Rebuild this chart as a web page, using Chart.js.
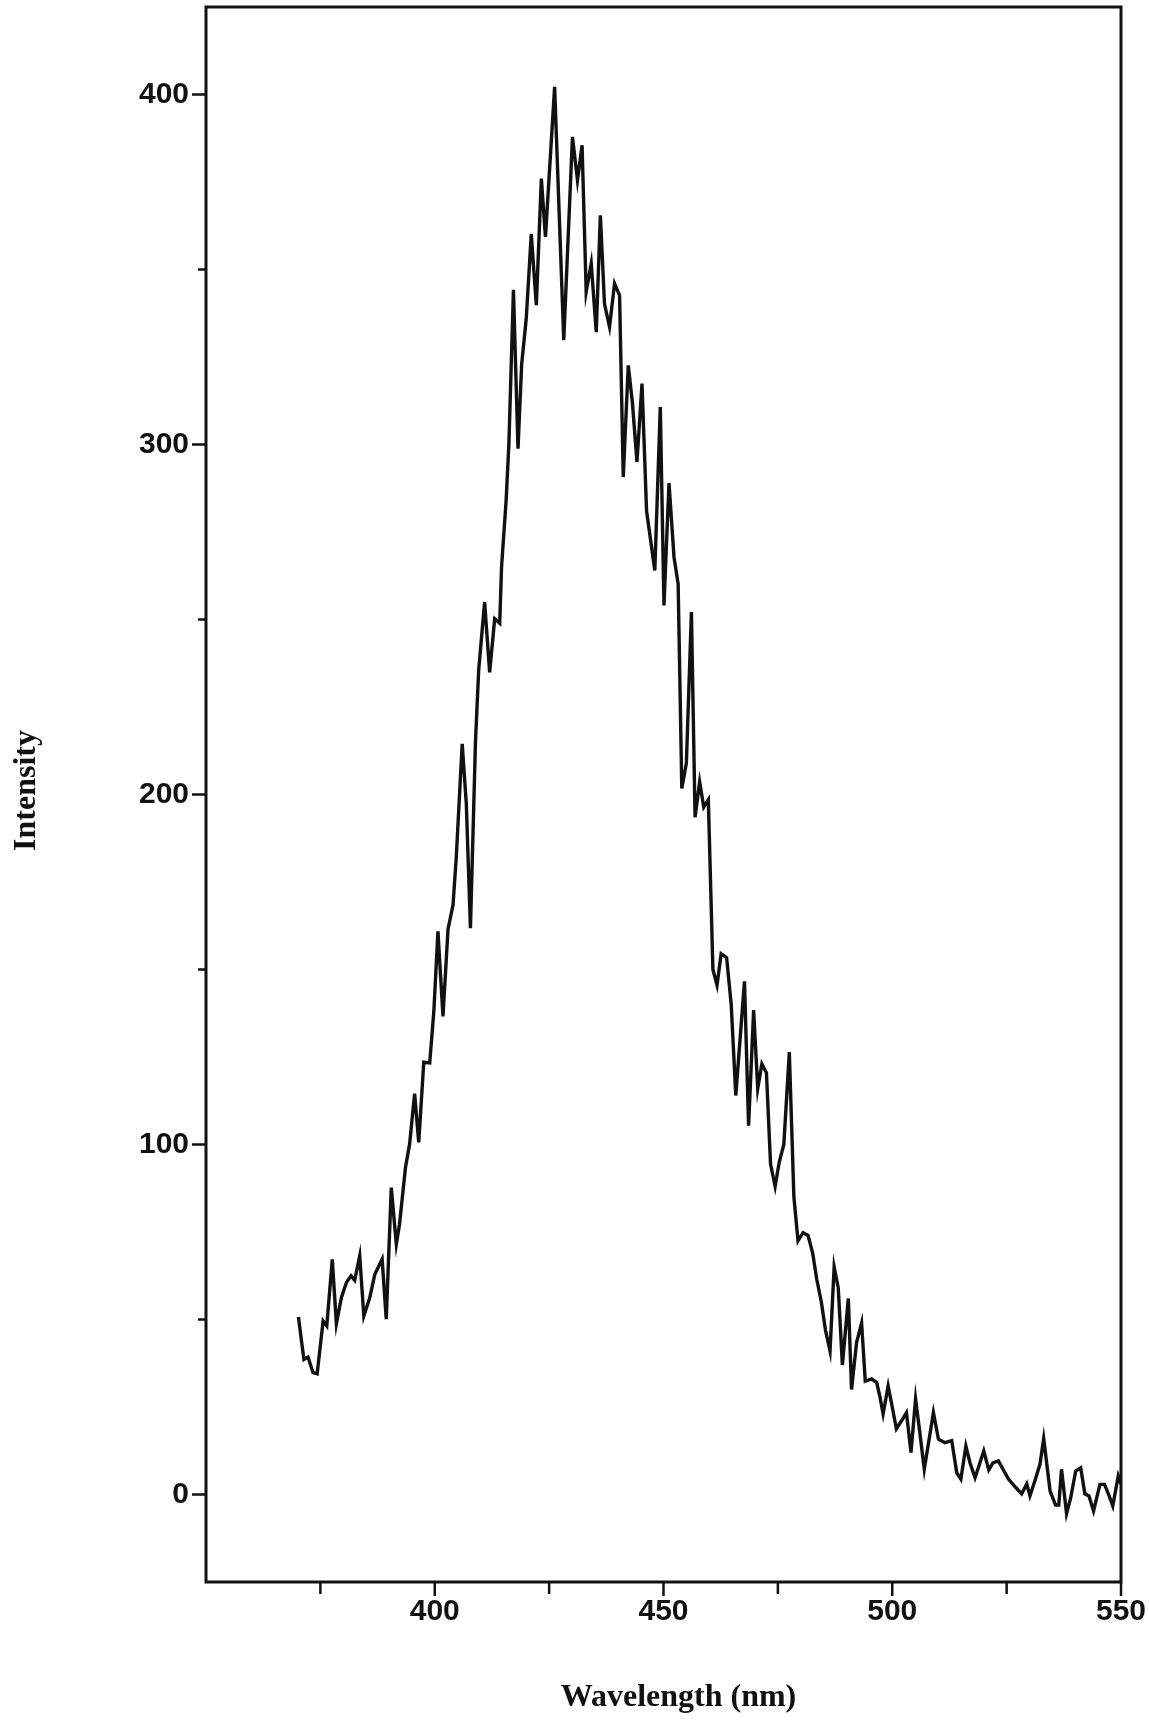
<!DOCTYPE html>
<html>
<head>
<meta charset="utf-8">
<script src="https://cdn.jsdelivr.net/npm/chart.js@4.4.1/dist/chart.umd.min.js"></script>
<style>
  html, body { margin: 0; padding: 0; background: #ffffff; }
  #wrap { width: 1149px; height: 1720px; }
</style>
</head>
<body>
<div id="wrap"><canvas id="c" width="1149" height="1720"></canvas></div>
<script>
// ---- data ----
const wavelengths = [
  370.2, 371.4, 372.3, 373.4, 374.3, 375.6, 376.4, 377.6, 378.5, 379.6,
  380.7, 381.7, 382.5, 383.6, 384.5, 385.8, 386.9, 388.5, 389.4, 390.5,
  391.6, 392.3, 393.6, 394.5, 395.6, 396.5, 397.6, 398.9, 399.8, 400.7,
  401.8, 402.9, 404.0, 404.7, 406.0, 406.9, 407.8, 408.9, 409.6, 410.9,
  412.0, 413.1, 414.2, 414.6, 415.6, 416.2, 417.2, 418.2, 419.0, 420.0,
  421.1, 421.5, 422.2, 423.3, 424.2, 426.2, 428.2, 430.1, 431.2, 432.2,
  433.1, 434.2, 435.3, 436.2, 437.1, 438.2, 439.3, 440.4, 441.2, 442.3,
  443.2, 444.2, 445.3, 446.3, 448.1, 449.3, 450.1, 451.2, 452.3, 453.2,
  454.0, 455.0, 456.1, 456.9, 457.9, 458.8, 459.8, 460.8, 461.7, 462.6,
  463.8, 464.8, 465.8, 467.7, 468.6, 469.7, 470.6, 471.5, 472.5, 473.4,
  474.4, 475.3, 476.3, 477.5, 478.5, 479.4, 480.5, 481.6, 482.6, 483.5,
  484.5, 485.4, 486.4, 487.3, 488.2, 489.1, 490.4, 491.1, 492.2, 493.3,
  494.1, 495.5, 496.6, 497.3, 498.0, 499.1, 500.0, 500.9, 502.0, 503.1,
  504.1, 505.1, 506.0, 507.0, 509.0, 510.1, 511.5, 513.0, 514.1, 515.0,
  516.1, 517.0, 518.1, 520.0, 521.1, 522.0, 523.2, 524.3, 525.4, 527.0,
  528.3, 529.4, 530.1, 531.2, 532.3, 533.1, 534.5, 535.7, 536.4, 537.0,
  538.1, 539.0, 540.1, 541.2, 542.1, 543.0, 544.0, 545.4, 546.4, 547.3,
  548.2, 549.4, 550.0
];
const intensities = [
  50.7, 38.6, 39.3, 34.8, 34.5, 49.6, 48.2, 67.2, 48.8, 56.3,
  60.6, 62.5, 61.2, 68.2, 51.0, 56.3, 62.9, 67.2, 50.1, 87.7,
  71.5, 77.2, 93.4, 100.1, 114.5, 100.6, 123.5, 123.3, 138.0, 160.9,
  136.6, 161.5, 168.5, 182.0, 214.5, 197.3, 161.8, 215.0, 235.5, 255.0,
  234.9, 250.2, 248.9, 265.0, 284.0, 300.0, 344.2, 298.8, 323.0, 336.0,
  360.2, 352.6, 339.8, 376.0, 359.3, 402.2, 329.8, 387.9, 375.5, 385.5,
  343.6, 351.7, 332.1, 365.5, 340.2, 333.6, 346.0, 342.6, 290.7, 322.6,
  312.0, 295.0, 317.4, 281.0, 264.0, 310.7, 254.0, 289.0, 267.8, 260.2,
  201.7, 209.0, 252.1, 193.5, 203.6, 196.4, 198.5, 150.0, 145.5, 154.5,
  153.4, 140.0, 114.0, 146.6, 105.4, 138.4, 116.0, 123.0, 120.5, 94.4,
  88.0, 95.0, 100.0, 126.4, 85.0, 72.5, 74.8, 74.0, 69.0, 61.5,
  55.0, 47.0, 41.0, 65.0, 59.0, 37.0, 56.0, 30.0, 43.4, 49.0,
  32.4, 33.0, 32.0, 28.0, 23.0, 31.0, 25.0, 18.8, 21.0, 23.4,
  12.0, 27.3, 18.0, 7.2, 23.4, 15.8, 14.8, 15.4, 6.2, 4.4,
  13.8, 9.0, 4.8, 12.4, 7.0, 9.0, 9.6, 7.0, 4.4, 2.0,
  0.2, 3.0, -0.4, 4.0, 8.7, 16.0, 1.0, -3.0, -3.0, 7.2,
  -5.5, -1.0, 6.7, 7.6, 0.2, -0.4, -4.7, 2.9, 2.9, 0.0,
  -3.3, 5.3, 3.0
];
const xMajorTicks = [400, 450, 500, 550];
const xMinorTicks = [375, 425, 475, 525];
const yMajorTicks = [0, 100, 200, 300, 400];
const yMinorTicks = [50, 150, 250, 350];
const xRange = [350, 550];
const yRange = [-25, 425];
const xTitle = 'Wavelength (nm)';
const yTitle = 'Intensity';

const titleFont = 'bold 32px "Liberation Serif", "Times New Roman", serif';

// ---- frame, outward tick marks and axis titles, placed from the chart's own scales ----
const framePlugin = {
  id: 'frame',
  afterDraw(chart) {
    const { ctx, chartArea: a, scales: { x, y } } = chart;
    ctx.save();
    ctx.strokeStyle = '#111';
    ctx.lineCap = 'butt';
    ctx.lineWidth = 2.5;
    const tick = (x1, y1, x2, y2) => { ctx.beginPath(); ctx.moveTo(x1, y1); ctx.lineTo(x2, y2); ctx.stroke(); };
    xMajorTicks.forEach(v => { const p = x.getPixelForValue(v); tick(p, a.bottom, p, a.bottom + 14); });
    xMinorTicks.forEach(v => { const p = x.getPixelForValue(v); tick(p, a.bottom, p, a.bottom + 12); });
    yMajorTicks.forEach(v => { const p = y.getPixelForValue(v); tick(a.left, p, a.left - 14, p); });
    yMinorTicks.forEach(v => { const p = y.getPixelForValue(v); tick(a.left, p, a.left - 8, p); });
    ctx.lineWidth = 3;
    ctx.strokeRect(a.left, a.top, a.right - a.left, a.bottom - a.top);

    // axis titles
    ctx.fillStyle = '#111';
    ctx.font = titleFont;
    ctx.textAlign = 'center';
    ctx.textBaseline = 'middle';
    ctx.fillText(xTitle, (a.left + a.right) / 2 + 15, chart.height - 22);
    ctx.translate(27, (a.top + a.bottom) / 2 - 4);
    ctx.rotate(-Math.PI / 2);
    ctx.fillText(yTitle, 0, 0);
    ctx.restore();
  }
};

const points = wavelengths.map((w, i) => ({ x: w, y: intensities[i] }));

new Chart(document.getElementById('c').getContext('2d'), {
  type: 'line',
  data: {
    datasets: [{
      data: points,
      borderColor: '#111111',
      borderWidth: 3.4,
      pointRadius: 0,
      tension: 0,
      fill: false
    }]
  },
  options: {
    responsive: false,
    animation: false,
    devicePixelRatio: 1,
    layout: { padding: { top: 7, right: 28, left: 0, bottom: 0 } },
    plugins: { legend: { display: false }, tooltip: { enabled: false } },
    scales: {
      x: {
        type: 'linear',
        min: xRange[0], max: xRange[1],
        afterBuildTicks: s => { s.ticks = xMajorTicks.map(v => ({ value: v })); },
        afterFit: s => { s.height = 138; s.paddingLeft = 0; s.paddingRight = 0; },
        grid: { display: false, drawTicks: false },
        border: { display: false },
        ticks: {
          autoSkip: false, maxRotation: 0, padding: 12, color: '#111',
          font: { family: '"Liberation Sans", Arial, sans-serif', size: 30, weight: 'bold' }
        },
        title: { display: false }
      },
      y: {
        type: 'linear',
        min: yRange[0], max: yRange[1],
        afterBuildTicks: s => { s.ticks = yMajorTicks.map(v => ({ value: v })); },
        afterFit: s => { s.width = 206; s.paddingTop = 0; s.paddingBottom = 0; },
        grid: { display: false, drawTicks: false },
        border: { display: false },
        ticks: {
          autoSkip: false, padding: 17, color: '#111',
          font: { family: '"Liberation Sans", Arial, sans-serif', size: 30, weight: 'bold' }
        },
        title: { display: false }
      }
    }
  },
  plugins: [framePlugin]
});
</script>
</body>
</html>
